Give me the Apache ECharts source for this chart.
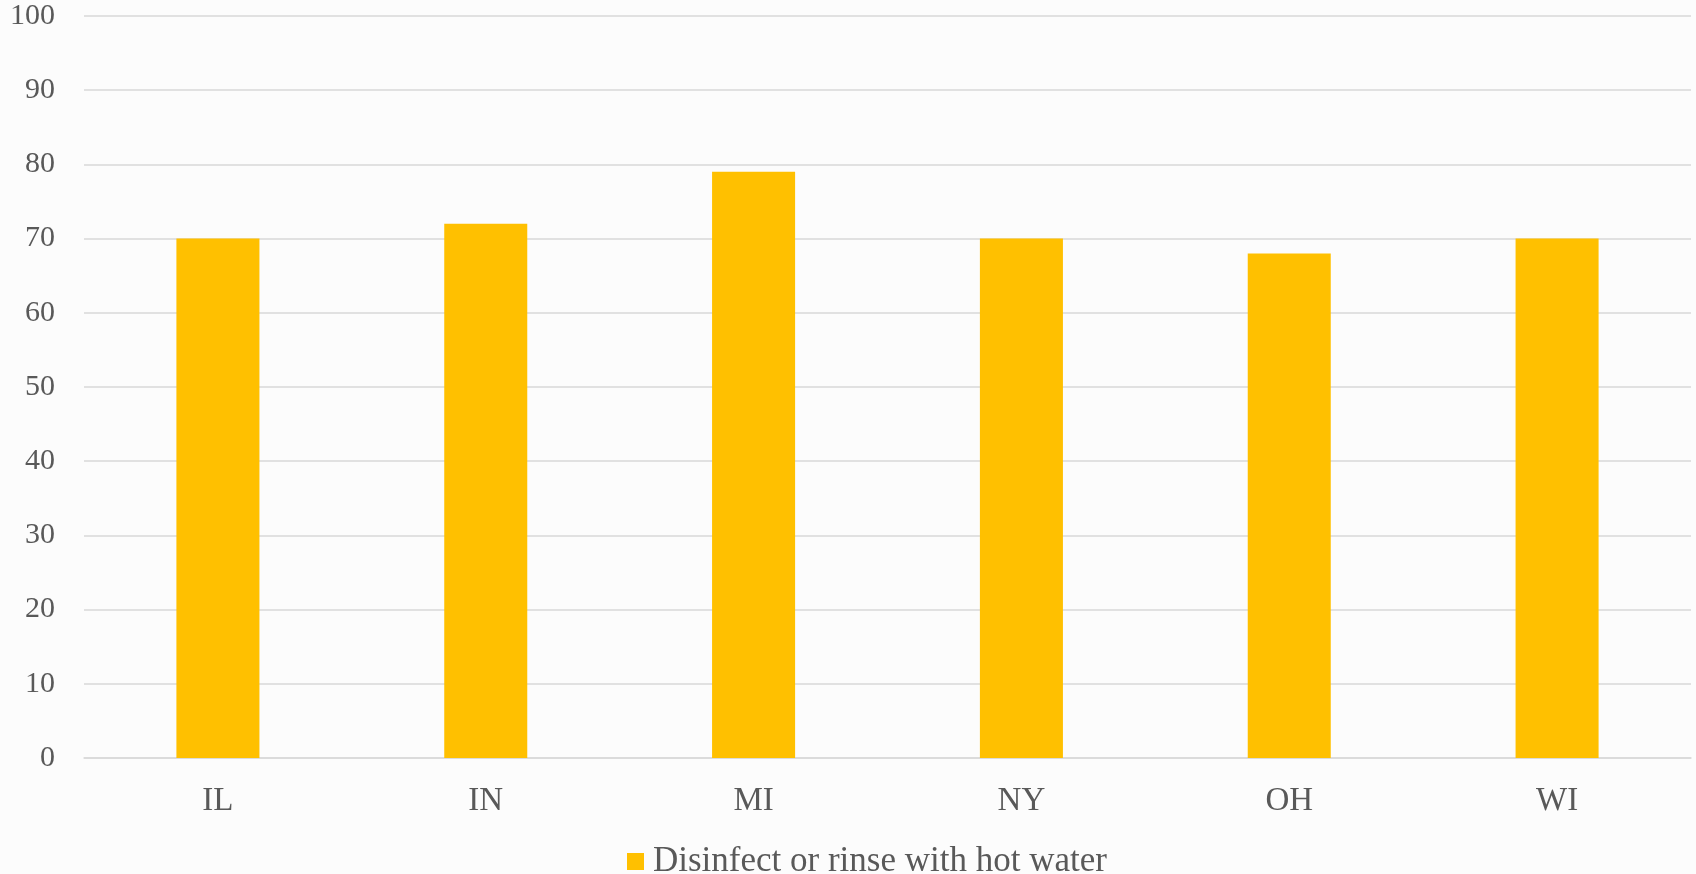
<!DOCTYPE html>
<html>
<head>
<meta charset="utf-8">
<script src="https://cdn.jsdelivr.net/npm/echarts@6/dist/echarts.min.js"></script>
<style>
html,body{margin:0;padding:0;background:#fcfcfc;}
#chart{width:1696px;height:874px;}
</style>
</head>
<body>
<div id="chart"></div>
<script>
const categories = ['IL', 'IN', 'MI', 'NY', 'OH', 'WI'];
const seriesName = 'Disinfect or rinse with hot water';
const values = [70, 72, 79, 70, 68, 70];
const yTicks = { min: 0, max: 100, interval: 10 };

const chart = echarts.init(document.getElementById('chart'));
const font = '"Liberation Serif", "DejaVu Serif", serif';
chart.setOption({
  backgroundColor: '#fcfcfc',
  animation: false,
  grid: { left: 84, right: 5, top: 16, bottom: 116 },
  legend: {
    bottom: -10,
    left: 622,
    itemWidth: 17,
    itemHeight: 17,
    itemGap: 10,
    icon: 'rect',
    textStyle: { fontFamily: font, fontSize: 35, color: '#595959', padding: [0, 0, 0, 4] },
    data: [seriesName]
  },
  xAxis: {
    type: 'category',
    data: categories,
    axisLine: { show: true, lineStyle: { color: '#d9d9d9', width: 1.5 } },
    axisTick: { show: false },
    axisLabel: { fontFamily: font, fontSize: 33, color: '#595959', margin: 27 }
  },
  yAxis: {
    type: 'value',
    min: yTicks.min,
    max: yTicks.max,
    interval: yTicks.interval,
    axisLine: { show: false },
    axisTick: { show: false },
    splitLine: { lineStyle: { color: '#d9d9d9', width: 1.5 } },
    axisLabel: { fontFamily: font, fontSize: 30, color: '#595959', margin: 29 }
  },
  series: [{
    name: seriesName,
    type: 'bar',
    data: values,
    barWidth: '31%',
    itemStyle: { color: '#FFC000' }
  }]
});
</script>
</body>
</html>
